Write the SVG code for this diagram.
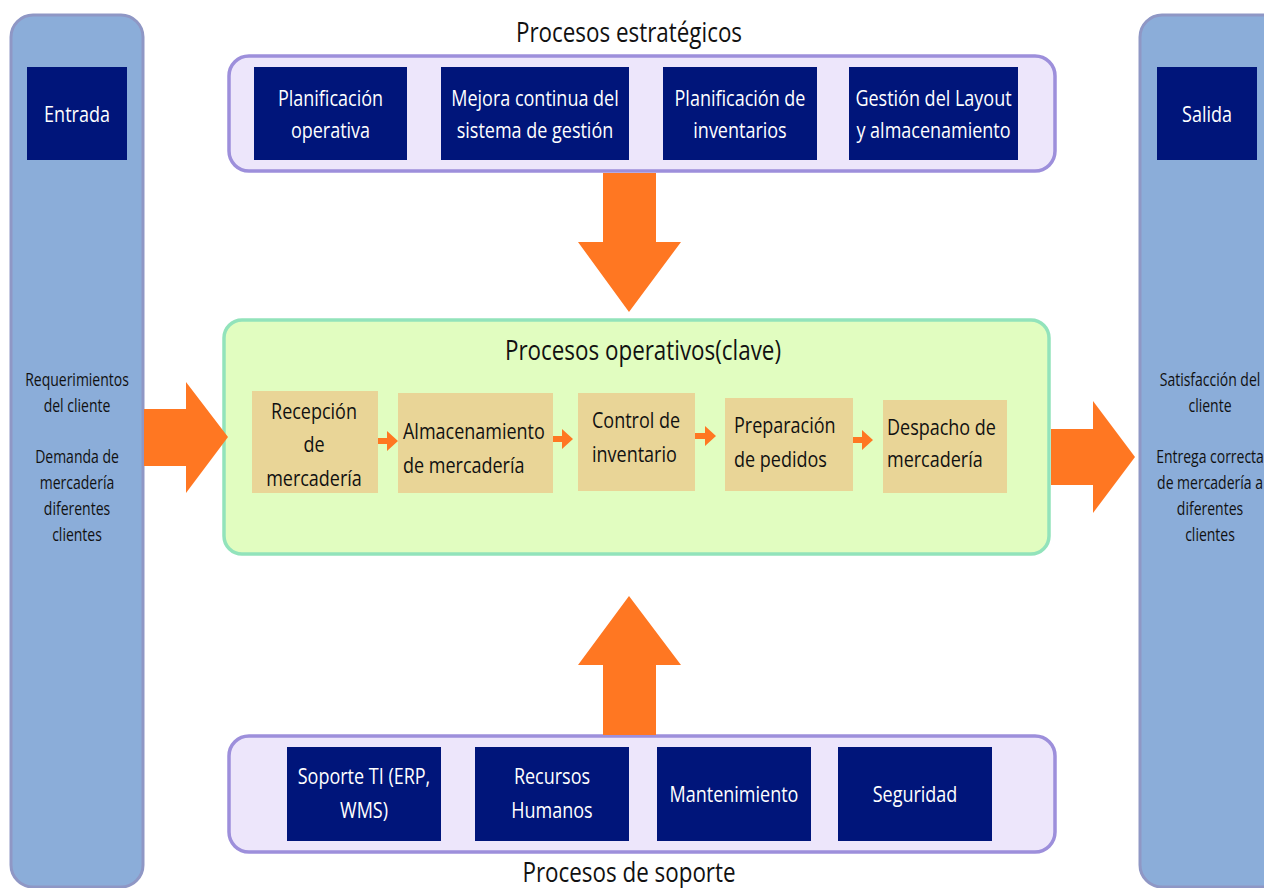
<svg xmlns="http://www.w3.org/2000/svg" width="1264" height="888" viewBox="0 0 1264 888">
<style>
.col{fill:#8badd9;stroke:#8f97c5;stroke-width:3}
.grp{fill:#ede6fb;stroke:#9d8fdb;stroke-width:3.5}
.ops{fill:#e1fdc0;stroke:#92e3bb;stroke-width:3.5}
.navy{fill:#00157a}
.tan{fill:#e9d597}
.big{fill:#ff7722}
.t{font-family:"Open Sans","Noto Sans","DejaVu Sans",sans-serif}
.wt{fill:#ffffff;font-size:22.5px}
.bt{fill:#111111;font-size:22.5px}
.side{fill:#111111;font-size:17.5px}
.title{fill:#111111;font-size:28px}
</style>
<rect x="0" y="0" width="1264" height="888" fill="#ffffff"/>

<g id="entrada-col">
<rect class="col" x="11" y="15" width="132" height="872" rx="22"/>
<rect class="navy" x="27" y="67" width="100" height="93"/>
<text class="t wt" text-anchor="middle" transform="translate(77,122) scale(0.8,1)">Entrada</text>
<text class="t side" text-anchor="middle" transform="translate(77,386) scale(0.8,1)"><tspan x="0" y="0">Requerimientos</tspan><tspan x="0" y="25.8">del cliente</tspan><tspan x="0" y="77.4">Demanda de</tspan><tspan x="0" y="103.2">mercadería</tspan><tspan x="0" y="129">diferentes</tspan><tspan x="0" y="154.8">clientes</tspan></text>
</g>

<g id="salida-col">
<rect class="col" x="1140" y="15" width="150" height="872" rx="22"/>
<rect class="navy" x="1157" y="67" width="100" height="93"/>
<text class="t wt" text-anchor="middle" transform="translate(1207,122) scale(0.8,1)">Salida</text>
<text class="t side" text-anchor="middle" transform="translate(1210,386) scale(0.8,1)"><tspan x="0" y="0">Satisfacción del</tspan><tspan x="0" y="25.8">cliente</tspan><tspan x="0" y="77.4">Entrega correcta</tspan><tspan x="0" y="103.2">de mercadería a</tspan><tspan x="0" y="129">diferentes</tspan><tspan x="0" y="154.8">clientes</tspan></text>
</g>

<g id="estrategicos">
<text class="t title" text-anchor="middle" transform="translate(629,42) scale(0.8,1)">Procesos estratégicos</text>
<rect class="grp" x="229" y="56" width="826" height="115" rx="20"/>
<g id="planificacion-operativa">
<rect class="navy" x="254" y="67" width="153" height="93"/>
<text class="t wt" text-anchor="middle" transform="translate(330.5,106) scale(0.8,1)"><tspan x="0" y="0">Planificación</tspan><tspan x="0" y="32">operativa</tspan></text>
</g>
<g id="mejora-continua">
<rect class="navy" x="441" y="67" width="188" height="93"/>
<text class="t wt" text-anchor="middle" transform="translate(535,106) scale(0.8,1)"><tspan x="0" y="0">Mejora continua del</tspan><tspan x="0" y="32">sistema de gestión</tspan></text>
</g>
<g id="planificacion-inventarios">
<rect class="navy" x="663" y="67" width="154" height="93"/>
<text class="t wt" text-anchor="middle" transform="translate(740,106) scale(0.8,1)"><tspan x="0" y="0">Planificación de</tspan><tspan x="0" y="32">inventarios</tspan></text>
</g>
<g id="gestion-layout">
<rect class="navy" x="849" y="67" width="169" height="93"/>
<text class="t wt" text-anchor="middle" transform="translate(933.5,106) scale(0.8,1)"><tspan x="0" y="0">Gestión del Layout</tspan><tspan x="0" y="32">y almacenamiento</tspan></text>
</g>
</g>

<g id="operativos">
<rect class="ops" x="224" y="320" width="825" height="234" rx="18"/>
<text class="t title" text-anchor="middle" transform="translate(643,360) scale(0.8,1)">Procesos operativos(clave)</text>
<g id="recepcion">
<rect class="tan" x="252" y="391" width="126" height="102"/>
<text class="t bt" text-anchor="middle" transform="translate(314,419) scale(0.8,1)"><tspan x="0" y="0">Recepción</tspan><tspan x="0" y="33.5">de</tspan><tspan x="0" y="67">mercadería</tspan></text>
</g>
<g id="almacenamiento">
<rect class="tan" x="398" y="393" width="155" height="100"/>
<text class="t bt" transform="translate(403,439) scale(0.8,1)"><tspan x="0" y="0">Almacenamiento</tspan><tspan x="0" y="34">de mercadería</tspan></text>
</g>
<g id="control">
<rect class="tan" x="578" y="393" width="117" height="98"/>
<text class="t bt" transform="translate(592,428) scale(0.8,1)"><tspan x="0" y="0">Control de</tspan><tspan x="0" y="34">inventario</tspan></text>
</g>
<g id="preparacion">
<rect class="tan" x="725" y="398" width="128" height="93"/>
<text class="t bt" transform="translate(734,433) scale(0.8,1)"><tspan x="0" y="0">Preparación</tspan><tspan x="0" y="34">de pedidos</tspan></text>
</g>
<g id="despacho">
<rect class="tan" x="883" y="400" width="124" height="93"/>
<text class="t bt" transform="translate(887,435) scale(0.8,1)"><tspan x="0" y="0">Despacho de</tspan><tspan x="0" y="32">mercadería</tspan></text>
</g>
</g>

<g id="soporte">
<rect class="grp" x="229" y="736" width="826" height="116" rx="20"/>
<g id="soporte-ti">
<rect class="navy" x="287" y="747" width="154" height="94"/>
<text class="t wt" text-anchor="middle" transform="translate(364,784) scale(0.8,1)"><tspan x="0" y="0">Soporte TI (ERP,</tspan><tspan x="0" y="34">WMS)</tspan></text>
</g>
<g id="recursos-humanos">
<rect class="navy" x="475" y="747" width="154" height="94"/>
<text class="t wt" text-anchor="middle" transform="translate(552,784) scale(0.8,1)"><tspan x="0" y="0">Recursos</tspan><tspan x="0" y="34">Humanos</tspan></text>
</g>
<g id="mantenimiento">
<rect class="navy" x="657" y="747" width="154" height="94"/>
<text class="t wt" text-anchor="middle" transform="translate(734,802) scale(0.8,1)">Mantenimiento</text>
</g>
<g id="seguridad">
<rect class="navy" x="838" y="747" width="154" height="94"/>
<text class="t wt" text-anchor="middle" transform="translate(915,802) scale(0.8,1)">Seguridad</text>
</g>
<text class="t title" text-anchor="middle" transform="translate(629,882) scale(0.8,1)">Procesos de soporte</text>
</g>

<g id="connectors">
<polygon class="big" points="603,173 656,173 656,242 681,242 629,312 578,242 603,242"/>
<polygon class="big" points="603,735 656,735 656,665 681,665 629,596 578,665 603,665"/>
<polygon class="big" points="144,409 186,409 186,382 228,437 186,493 186,466 144,466"/>
<polygon class="big" points="1051,429 1093,429 1093,401 1135,457 1093,513 1093,485 1051,485"/>
<polygon class="big" points="378,438 387,438 387,431 398,441 387,451 387,444 378,444"/>
<polygon class="big" points="553,436 562,436 562,429 573,439 562,449 562,442 553,442"/>
<polygon class="big" points="695,433 705,433 705,426 716,436 705,446 705,439 695,439"/>
<polygon class="big" points="853,437 862,437 862,430 873,440 862,450 862,443 853,443"/>
</g>
</svg>
